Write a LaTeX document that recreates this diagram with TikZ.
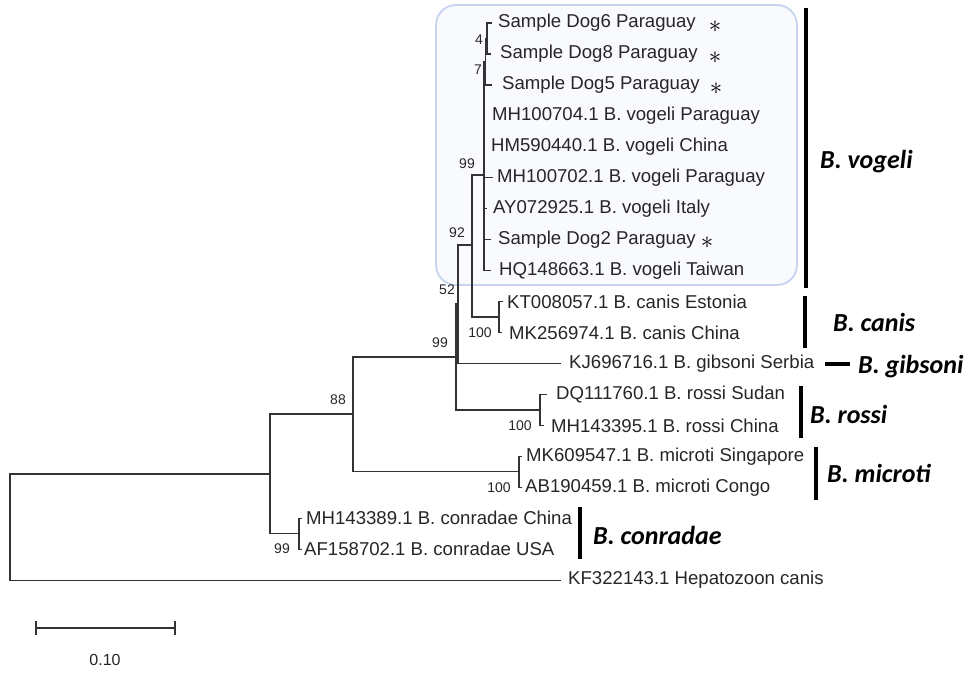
\documentclass[tikz,border=0pt]{standalone}
\usepackage{fontspec}
\setmainfont{Liberation Sans}
\newfontfamily\cladefont{Carlito}
\definecolor{boxline}{RGB}{198,212,240}
\definecolor{boxfill}{RGB}{248,250,254}
\tikzset{
  br/.style={line width=1.2pt, draw=black!80, line cap=rect},
  leaf/.style={anchor=west, inner sep=0pt, font=\fontsize{18.6}{21}\selectfont, text=black!85},
  boot/.style={inner sep=0pt, font=\fontsize{14}{16}\selectfont, text=black!85},
  clade/.style={anchor=west, inner sep=0pt, font=\cladefont\bfseries\itshape\fontsize{26}{30}\selectfont},
  cbar/.style={line width=4.5pt, draw=black},
  starmark/.style={inner sep=0pt, font=\fontsize{24}{24}\selectfont, text=black},
  vbox/.style={draw=boxline, fill=boxfill, line width=1.8pt, rounded corners=20pt}
}
\begin{document}
\begin{tikzpicture}[x=1pt,y=-1pt]
\useasboundingbox (0,0) rectangle (968,672);
% highlight box
\draw[vbox] (436,5) rectangle (797,285);

% leaf tips
\coordinate (t0) at (491,23);
\coordinate (t1) at (490,53.95);
\coordinate (t2) at (491,84.9);
\coordinate (t3) at (484,115.85);
\coordinate (t4) at (484,146.8);
\coordinate (t5) at (492,177.75);
\coordinate (t6) at (486,208.7);
\coordinate (t7) at (490,239.65);
\coordinate (t8) at (490,270.6);
\coordinate (t9) at (502,301.55);
\coordinate (t10) at (501,332.5);
\coordinate (t11) at (560,363.45);
\coordinate (t12) at (546,394.4);
\coordinate (t13) at (543,425.35);
\coordinate (t14) at (521,456.3);
\coordinate (t15) at (521,487.25);
\coordinate (t16) at (301,518.2);
\coordinate (t17) at (301,549.15);
\coordinate (t18) at (560,580.1);

% internal nodes
\coordinate (N4) at (487,38.5);
\coordinate (N7) at (485.5,61.7);
\coordinate (NV) at (484,175);
\coordinate (NC) at (499,317);
\coordinate (N92) at (472,245);
\coordinate (N52) at (458,304);
\coordinate (NR) at (540,410);
\coordinate (N99) at (456,357);
\coordinate (NM) at (519,471.8);
\coordinate (N88) at (353,414);
\coordinate (NCo) at (299,533.7);
\coordinate (N270) at (270,474);
\coordinate (Root) at (10,527);

% branches
\draw[br] (N4) |- (t0); \draw[br] (N4) |- (t1);
\draw[br] (N7) |- (N4); \draw[br] (N7) |- (t2);
\draw[br] (NV) |- (N7); \draw[br] (NV) |- (t3); \draw[br] (NV) |- (t4);
\draw[br] (NV) |- (t5); \draw[br] (NV) |- (t6); \draw[br] (NV) |- (t7);
\draw[br] (NV) |- (t8);
\draw[br] (NC) |- (t9); \draw[br] (NC) |- (t10);
\draw[br] (N92) |- (NV); \draw[br] (N92) |- (NC);
\draw[br] (N52) |- (N92); \draw[br] (N52) |- (t11);
\draw[br] (NR) |- (t12); \draw[br] (NR) |- (t13);
\draw[br] (N99) |- (N52); \draw[br] (N99) |- (NR);
\draw[br] (NM) |- (t14); \draw[br] (NM) |- (t15);
\draw[br] (N88) |- (N99); \draw[br] (N88) |- (NM);
\draw[br] (NCo) |- (t16); \draw[br] (NCo) |- (t17);
\draw[br] (N270) |- (N88); \draw[br] (N270) |- (NCo);
\draw[br] (Root) |- (N270); \draw[br] (Root) |- (t18);

% leaf labels
\node[leaf] (L0) at (498,23) {Sample Dog6 Paraguay};
\node[leaf] (L1) at (500,53.95) {Sample Dog8 Paraguay};
\node[leaf] (L2) at (502,84.9) {Sample Dog5 Paraguay};
\node[leaf] (L3) at (492,115.85) {MH100704.1 B. vogeli Paraguay};
\node[leaf] (L4) at (491,146.8) {HM590440.1 B. vogeli China};
\node[leaf] (L5) at (497,177.75) {MH100702.1 B. vogeli Paraguay};
\node[leaf] (L6) at (493,208.7) {AY072925.1 B. vogeli Italy};
\node[leaf] (L7) at (498,239.65) {Sample Dog2 Paraguay};
\node[leaf] (L8) at (499,270.6) {HQ148663.1 B. vogeli Taiwan};
\node[leaf] (L9) at (507,301.55) {KT008057.1 B. canis Estonia};
\node[leaf] (L10) at (509,332.5) {MK256974.1 B. canis China};
\node[leaf] (L11) at (569,363.45) {KJ696716.1 B. gibsoni Serbia};
\node[leaf] (L12) at (556,394.4) {DQ111760.1 B. rossi Sudan};
\node[leaf] (L13) at (551,425.35) {MH143395.1 B. rossi China};
\node[leaf] (L14) at (526,456.3) {MK609547.1 B. microti Singapore};
\node[leaf] (L15) at (525,487.25) {AB190459.1 B. microti Congo};
\node[leaf] (L16) at (306,518.2) {MH143389.1 B. conradae China};
\node[leaf] (L17) at (304,549.15) {AF158702.1 B. conradae USA};
\node[leaf] (L18) at (568,580.1) {KF322143.1 Hepatozoon canis};

% asterisks
\node[starmark] (s0) at (715,27) {$\ast$};
\node[starmark] (s1) at (715,58) {$\ast$};
\node[starmark] (s2) at (716,89) {$\ast$};
\node[starmark] (s7) at (707,243) {$\ast$};

% bootstrap values
\node[boot] (b4) at (479,40) {4};
\node[boot] (b7) at (478,70) {7};
\node[boot] (b99a) at (467,164) {99};
\node[boot] (b92) at (457,233) {92};
\node[boot] (b52) at (447,290) {52};
\node[boot] (b99b) at (440,343) {99};
\node[boot] (b100a) at (480,333) {100};
\node[boot] (b100b) at (520,426) {100};
\node[boot] (b88) at (338,400) {88};
\node[boot] (b100c) at (499,488) {100};
\node[boot] (b99c) at (282,549) {99};

% clade bars and names
\draw[cbar] (806,8) -- (806,288);
\node[clade] (cv) at (820,162) {B. vogeli};
\draw[cbar] (805,296) -- (805,348);
\node[clade] (cc) at (833,322) {B. canis};
\draw[cbar] (825,364) -- (850,364);
\node[clade] (cg) at (858,367) {B. gibsoni};
\draw[cbar] (801,386) -- (801,438);
\node[clade] (cr) at (810,414) {B. rossi};
\draw[cbar] (816,447) -- (816,500);
\node[clade] (cm) at (827,473) {B. microti};
\draw[cbar] (580,507) -- (580,559);
\node[clade] (cco) at (593,535) {B. conradae};

% scale bar
\coordinate (sa) at (36,628);
\coordinate (sb) at (175,628);
\draw[br] (sa) -- (sb);
\draw[br] ([yshift=-6pt]sa) -- ([yshift=6pt]sa);
\draw[br] ([yshift=-6pt]sb) -- ([yshift=6pt]sb);
\node[boot, font=\fontsize{16}{18}\selectfont] (sl) at (105,660) {0.10};
\end{tikzpicture}
\end{document}
